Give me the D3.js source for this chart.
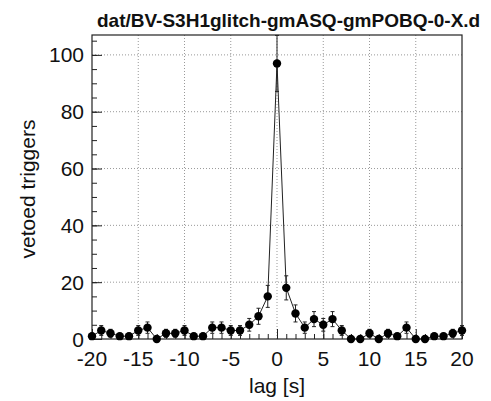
<!DOCTYPE html>
<html>
<head>
<meta charset="utf-8">
<script src="https://cdn.jsdelivr.net/npm/d3@7"></script>
<style>
  html, body { margin: 0; padding: 0; background: #fff; }
  svg { display: block; }
  text { font-family: "Liberation Sans", Arial, Helvetica, sans-serif; fill: #111; }
</style>
</head>
<body>
<svg id="chart" width="491" height="401"></svg>
<script>
const lags = d3.range(-20, 21);
const counts = [1, 3, 2, 1, 1, 3, 4, 0, 2, 2, 3, 1, 1, 4, 4, 3, 3, 5, 8, 15,
                97,
                18, 9, 4, 7, 5, 7, 3, 0, 0, 2, 0, 2, 1, 4, 0, 0, 1, 1, 2, 3];
const xTicks = [-20, -15, -10, -5, 0, 5, 10, 15, 20];
const yTicks = [0, 20, 40, 60, 80, 100];
const xGrid = [-15, -10, -5, 0, 5, 10, 15];
const yGrid = [20, 40, 60, 80, 100];
const titleText = "dat/BV-S3H1glitch-gmASQ-gmPOBQ-0-X.d";
const xLabel = "lag [s]";
const yLabel = "vetoed triggers";

const data = lags.map((l, i) => ({ lag: l, n: counts[i], err: Math.sqrt(counts[i]) }));

const W = 491, H = 401;
const m = { left: 92, right: 29, top: 35, bottom: 62 };
const svg = d3.select("#chart");

const x = d3.scaleLinear().domain([-20, 20]).range([m.left, W - m.right]);
const y = d3.scaleLinear().domain([0, 107]).range([H - m.bottom, m.top]);

// grid
const g = svg.append("g");
g.selectAll(".gx").data(xGrid).join("line")
  .attr("x1", d => x(d)).attr("x2", d => x(d))
  .attr("y1", y(0)).attr("y2", y(107))
  .attr("stroke", "#999").attr("stroke-width", 1).attr("stroke-dasharray", "1,2");
g.selectAll(".gy").data(yGrid).join("line")
  .attr("x1", x(-20)).attr("x2", x(20))
  .attr("y1", d => y(d)).attr("y2", d => y(d))
  .attr("stroke", "#999").attr("stroke-width", 1).attr("stroke-dasharray", "1,2");

// axes (ticks inward)
const xAxisMajor = d3.axisTop(x).tickValues(xTicks).tickSize(10).tickFormat("");
const xAxisMinor = d3.axisTop(x).tickValues(d3.range(-20, 21)).tickSize(5).tickFormat("");
const yAxisMajor = d3.axisRight(y).tickValues(yTicks).tickSize(10).tickFormat("");
const yAxisMinor = d3.axisRight(y).tickValues(d3.range(0, 106, 5)).tickSize(5).tickFormat("");

[xAxisMinor, xAxisMajor].forEach(ax => {
  const a = svg.append("g").attr("transform", `translate(0,${y(0)})`).call(ax);
  a.select(".domain").remove();
  a.selectAll("line").attr("stroke", "#222");
});
[yAxisMinor, yAxisMajor].forEach(ax => {
  const a = svg.append("g").attr("transform", `translate(${x(-20)},0)`).call(ax);
  a.select(".domain").remove();
  a.selectAll("line").attr("stroke", "#222");
});

// tick labels
svg.append("g").selectAll("text").data(xTicks).join("text")
  .attr("x", d => x(d)).attr("y", 366)
  .attr("text-anchor", "middle").attr("font-size", 21)
  .text(d => d);
svg.append("g").selectAll("text").data(yTicks).join("text")
  .attr("x", 84).attr("y", d => y(d) + 7.5)
  .attr("text-anchor", "end").attr("font-size", 21)
  .text(d => d);

// frame
svg.append("rect")
  .attr("x", x(-20)).attr("y", y(107))
  .attr("width", x(20) - x(-20)).attr("height", y(0) - y(107))
  .attr("fill", "none").attr("stroke", "#222").attr("stroke-width", 1.2);

// error bars
const eb = svg.append("g").attr("stroke", "#222").attr("stroke-width", 1);
data.filter(d => d.n > 0).forEach(d => {
  eb.append("line").attr("x1", x(d.lag)).attr("x2", x(d.lag))
    .attr("y1", y(d.n - d.err)).attr("y2", y(d.n + d.err));
  eb.append("line").attr("x1", x(d.lag) - 2).attr("x2", x(d.lag) + 2)
    .attr("y1", y(d.n + d.err)).attr("y2", y(d.n + d.err));
  eb.append("line").attr("x1", x(d.lag) - 2).attr("x2", x(d.lag) + 2)
    .attr("y1", y(d.n - d.err)).attr("y2", y(d.n - d.err));
});

// line
svg.append("path").datum(data)
  .attr("d", d3.line().x(d => x(d.lag)).y(d => y(d.n)))
  .attr("fill", "none").attr("stroke", "#222").attr("stroke-width", 1);

// markers
svg.append("g").selectAll("circle").data(data).join("circle")
  .attr("cx", d => x(d.lag)).attr("cy", d => y(d.n)).attr("r", 4.2)
  .attr("fill", "#000");

// title & labels
svg.append("text").attr("x", 97).attr("y", 27)
  .attr("font-size", 19).attr("font-weight", "bold").text(titleText);
svg.append("text").attr("x", (x(-20) + x(20)) / 2).attr("y", 393)
  .attr("text-anchor", "middle").attr("font-size", 21).text(xLabel);
svg.append("text")
  .attr("transform", `translate(35,${(y(0) + y(107)) / 2 + 2}) rotate(-90)`)
  .attr("text-anchor", "middle").attr("font-size", 21).text(yLabel);
</script>
</body>
</html>
